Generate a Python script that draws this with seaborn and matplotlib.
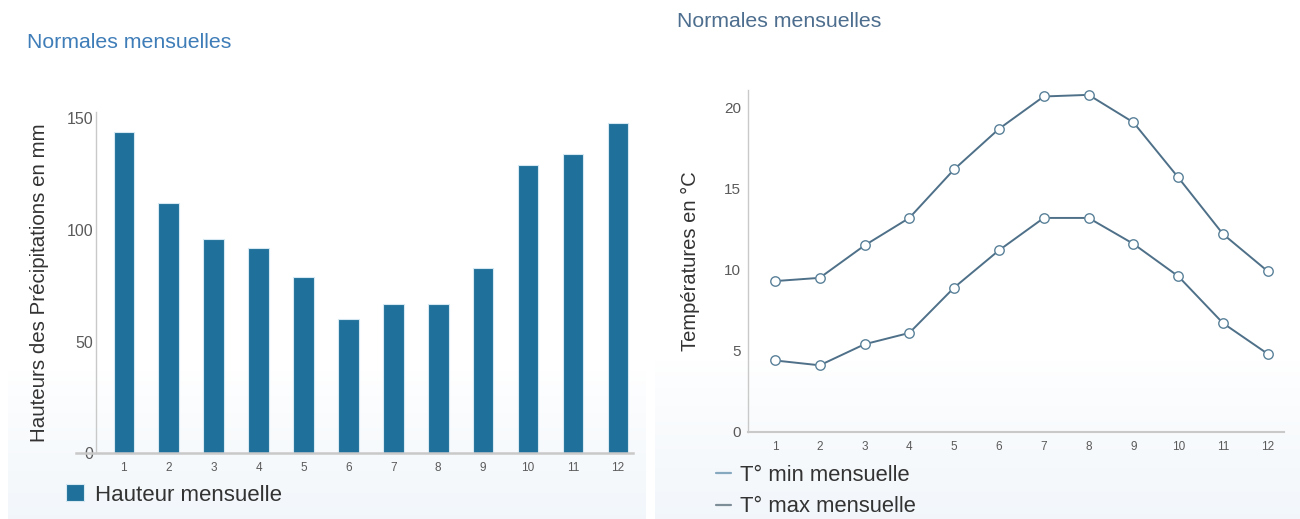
import numpy as np
import pandas as pd
import matplotlib
matplotlib.use("Agg")
import matplotlib.pyplot as plt
from matplotlib.patches import Patch
from matplotlib.lines import Line2D
import seaborn as sns

# Monthly climate normals
months = list(range(1, 13))
precip_mm = [144, 112, 96, 92, 79, 60, 67, 67, 83, 129, 134, 148]
t_min = [4.4, 4.1, 5.4, 6.1, 8.9, 11.2, 13.2, 13.2, 11.6, 9.6, 6.7, 4.8]
t_max = [9.3, 9.5, 11.5, 13.2, 16.2, 18.7, 20.7, 20.8, 19.1, 15.7, 12.2, 9.9]

precip_ticks = [0, 50, 100, 150]
temp_ticks = [0, 5, 10, 15, 20]

title_text = "Normales mensuelles"
precip_label = "Hauteurs des Précipitations en mm"
temp_label = "Températures en °C"
precip_legend = "Hauteur mensuelle"
tmin_legend = "T° min mensuelle"
tmax_legend = "T° max mensuelle"

sns.set_theme(style="white")
plt.rcParams["font.family"] = ["Liberation Sans", "DejaVu Sans"]

W, H = 1300, 519
fig = plt.figure(figsize=(W / 100, H / 100), dpi=100)
fig.patch.set_facecolor("white")


def fx(px):
    return px / W


def fy(py):
    return 1 - py / H


# Soft panel backgrounds fading to a pale blue at the bottom
bg = fig.add_axes([0, 0, 1, 1], zorder=-5)
bg.set_xlim(0, W)
bg.set_ylim(H, 0)
bg.axis("off")
top_col = np.array([1.0, 1.0, 1.0])
bot_col = np.array([0.95, 0.968, 0.984])
for (x0, x1, y0) in [(8, 646, 370), (655, 1300, 360)]:
    t = np.linspace(0, 1, 100)[:, None] ** 0.8
    grad = top_col + (bot_col - top_col) * t
    img = np.repeat(grad[:, None, :], 2, axis=1)
    bg.imshow(img, extent=(x0, x1, H, y0), aspect="auto", interpolation="bilinear")

axis_grey = "#c9c9c9"
tick_grey = "#5a5a5a"
text_dark = "#333333"

# ---- Precipitation bars ----
df_p = pd.DataFrame({"mois": [str(m) for m in months], "pluie": precip_mm})
ax1 = fig.add_axes([fx(96), fy(453.3), fx(632.7 - 96), (453.3 - 112) / H])
ax1.set_facecolor("none")
sns.barplot(data=df_p, x="mois", y="pluie", ax=ax1, color="#1f709a",
            width=0.46, saturation=1, edgecolor="#d6e8f2", linewidth=0.8)
ax1.set_xlim(-0.62, 11.33)
ax1.set_ylim(0, 152.8)
ax1.set_yticks(precip_ticks)
ax1.set_xlabel("")
ax1.set_ylabel(precip_label, fontsize=14.8, color=text_dark, labelpad=13)
for s in ["top", "right"]:
    ax1.spines[s].set_visible(False)
ax1.spines["left"].set_color(axis_grey)
ax1.spines["left"].set_linewidth(1.0)
ax1.spines["bottom"].set_color(axis_grey)
ax1.spines["bottom"].set_linewidth(1.8)
ax1.spines["bottom"].set_bounds(-1.07, 11.33)
ax1.tick_params(axis="y", direction="in", length=4, width=0.8, color="#bbbbbb",
                labelsize=11.5, labelcolor=tick_grey, pad=2)
ax1.tick_params(axis="x", length=0, labelsize=8.5, labelcolor=tick_grey, pad=6)
fig.text(fx(27), fy(43), title_text, fontsize=15.3, color="#3f7db8", va="center", ha="left")

fig.legend(handles=[Patch(facecolor="#1f709a", edgecolor="#d6e8f2", linewidth=0.8)],
           labels=[precip_legend], loc="center left",
           bbox_to_anchor=(fx(66), fy(495)), frameon=False, fontsize=16,
           handlelength=0.82, handleheight=0.8, handletextpad=0.5,
           borderpad=0, borderaxespad=0, labelcolor=text_dark)

# ---- Temperature lines ----
df_t = pd.DataFrame({"mois": months + months,
                     "temp": t_min + t_max,
                     "serie": [tmin_legend] * 12 + [tmax_legend] * 12})
ax2 = fig.add_axes([fx(748), fy(431.7), fx(1284 - 748), (431.7 - 90) / H])
ax2.set_facecolor("none")
line_col = "#4e7088"
sns.lineplot(data=df_t, x="mois", y="temp", units="serie", estimator=None,
             ax=ax2, color=line_col, linewidth=1.4, marker="o", markersize=6.8,
             markerfacecolor="white", markeredgecolor="#5a8199",
             markeredgewidth=1.0, legend=False)
ax2.set_xlim(0.4, 12.36)
ax2.set_ylim(0, 21.1)
ax2.set_xticks(months)
ax2.set_yticks(temp_ticks)
ax2.set_xlabel("")
ax2.set_ylabel(temp_label, fontsize=14.5, color=text_dark, labelpad=17)
for s in ["top", "right"]:
    ax2.spines[s].set_visible(False)
ax2.spines["left"].set_color(axis_grey)
ax2.spines["left"].set_linewidth(1.0)
ax2.spines["bottom"].set_color(axis_grey)
ax2.spines["bottom"].set_linewidth(1.5)
ax2.tick_params(axis="y", direction="out", length=3, width=0.8, color="#bbbbbb",
                labelsize=11, labelcolor=tick_grey, pad=2)
ax2.tick_params(axis="x", direction="in", length=5, width=0.8, color="#bbbbbb",
                labelsize=8.5, labelcolor=tick_grey, pad=7)
fig.text(fx(677), fy(22), title_text, fontsize=15.3, color="#4d6e8e", va="center", ha="left")

fig.legend(handles=[Line2D([], [], color="#86a9bf", linewidth=1.6),
                    Line2D([], [], color="#7d8e98", linewidth=1.6)],
           labels=[tmin_legend, tmax_legend], loc="center left",
           bbox_to_anchor=(fx(716), fy(491)), frameon=False, fontsize=15.8,
           handlelength=0.68, handletextpad=0.42, labelspacing=0.5,
           borderpad=0, borderaxespad=0, labelcolor=text_dark)

fig.savefig("out.png", dpi=100, facecolor="white")
